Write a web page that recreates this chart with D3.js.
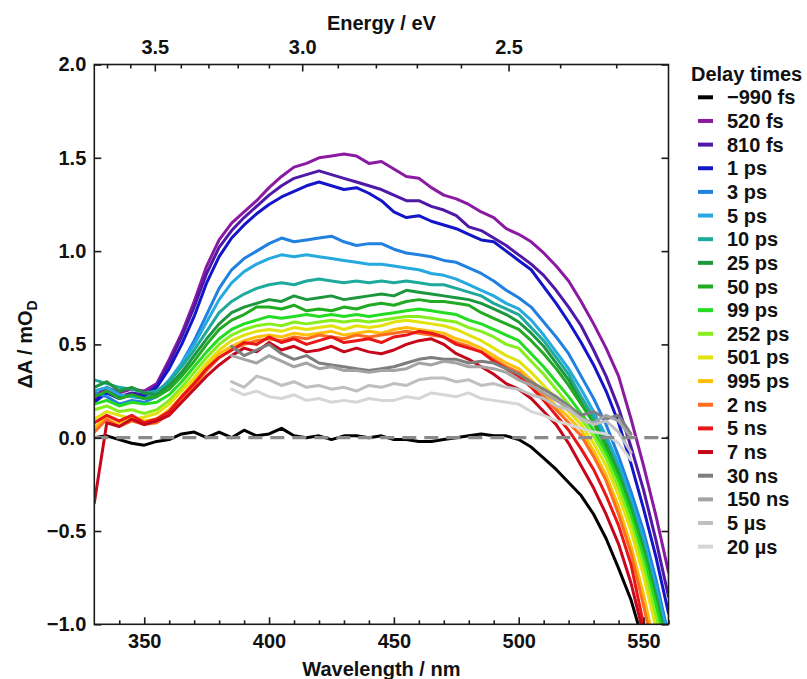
<!DOCTYPE html>
<html>
<head>
<meta charset="utf-8">
<script src="https://cdn.jsdelivr.net/npm/d3@7"></script>
<style>
  body { margin: 0; background: #fff; }
  svg text { font-family: "Liberation Sans", Arial, sans-serif; font-weight: bold; fill: #111; }
</style>
</head>
<body>
<svg id="chart" width="807" height="679"></svg>
<script>
// ---- data -------------------------------------------------------------
const wavelength = [330,335,340,345,350,355,360,365,370,375,380,385,390,395,400,405,410,415,420,425,430,435,440,445,450,455,460,465,470,475,480,485,490,495,500,505,510,515,520,525,530,535,540,545,550,555,560];
const wavelengthLate = [385,390,395,400,405,410,415,420,425,430,435,440,445,450,455,460,465,470,475,480,485,490,495,500,505,510,515,520,525,530,535,540,545];

const dA_m990fs = [0.00,0.01,-0.01,-0.03,-0.04,-0.02,-0.01,0.02,0.03,0.00,0.03,0.00,0.04,0.01,0.02,0.05,0.01,0.00,0.01,-0.01,0.01,0.01,0.00,0.01,-0.01,-0.01,-0.02,-0.02,-0.01,0.00,0.01,0.02,0.01,0.01,-0.01,-0.05,-0.11,-0.17,-0.24,-0.31,-0.41,-0.54,-0.70,-0.87,-1.10,-1.35,-1.60];
const dA_520fs = [0.22,0.27,0.24,0.26,0.25,0.29,0.42,0.56,0.73,0.92,1.06,1.15,1.21,1.27,1.34,1.40,1.45,1.47,1.50,1.51,1.52,1.51,1.47,1.48,1.44,1.40,1.39,1.34,1.30,1.28,1.25,1.21,1.18,1.12,1.09,1.05,0.99,0.92,0.84,0.73,0.61,0.48,0.33,0.10,-0.15,-0.42,-0.72];
const dA_810fs = [0.20,0.25,0.22,0.24,0.23,0.28,0.40,0.54,0.70,0.88,1.02,1.11,1.18,1.24,1.30,1.35,1.39,1.41,1.43,1.41,1.39,1.37,1.35,1.33,1.30,1.27,1.27,1.24,1.22,1.19,1.13,1.11,1.07,1.03,0.98,0.93,0.87,0.79,0.70,0.60,0.47,0.33,0.16,-0.05,-0.28,-0.55,-0.85];
const dA_1ps = [0.19,0.24,0.21,0.23,0.22,0.27,0.37,0.50,0.65,0.83,0.97,1.07,1.14,1.20,1.25,1.29,1.32,1.35,1.37,1.35,1.33,1.34,1.31,1.27,1.21,1.18,1.19,1.16,1.14,1.12,1.09,1.06,1.05,1.00,0.95,0.90,0.81,0.72,0.62,0.51,0.39,0.25,0.08,-0.14,-0.38,-0.64,-0.94];
const dA_3ps = [0.24,0.22,0.18,0.20,0.19,0.22,0.30,0.40,0.52,0.66,0.80,0.90,0.96,1.00,1.04,1.07,1.05,1.06,1.07,1.08,1.05,1.03,1.04,1.04,1.01,0.99,0.98,0.97,0.95,0.94,0.91,0.88,0.84,0.79,0.75,0.70,0.62,0.54,0.45,0.33,0.21,0.07,-0.10,-0.29,-0.50,-0.76,-1.06];
const dA_5ps = [0.25,0.27,0.23,0.22,0.21,0.24,0.31,0.40,0.50,0.62,0.74,0.83,0.89,0.93,0.96,0.98,0.97,0.98,0.97,0.96,0.95,0.94,0.93,0.93,0.92,0.91,0.90,0.88,0.87,0.85,0.82,0.79,0.76,0.72,0.69,0.63,0.55,0.46,0.37,0.26,0.14,0.01,-0.14,-0.33,-0.54,-0.80,-1.08];
const dA_10ps = [0.31,0.29,0.27,0.26,0.24,0.25,0.30,0.38,0.47,0.57,0.67,0.73,0.77,0.80,0.82,0.83,0.82,0.84,0.85,0.84,0.83,0.84,0.83,0.84,0.83,0.84,0.83,0.82,0.82,0.80,0.78,0.76,0.72,0.69,0.66,0.59,0.52,0.43,0.34,0.22,0.11,-0.02,-0.17,-0.36,-0.58,-0.84,-1.12];
const dA_25ps = [0.27,0.30,0.25,0.27,0.24,0.23,0.28,0.35,0.44,0.53,0.61,0.67,0.70,0.72,0.74,0.73,0.76,0.74,0.75,0.76,0.74,0.75,0.76,0.77,0.76,0.79,0.78,0.77,0.76,0.75,0.74,0.72,0.69,0.66,0.62,0.56,0.49,0.40,0.31,0.19,0.08,-0.04,-0.19,-0.38,-0.60,-0.86,-1.15];
const dA_50ps = [0.22,0.25,0.21,0.23,0.21,0.22,0.26,0.33,0.41,0.50,0.58,0.63,0.66,0.70,0.70,0.69,0.71,0.68,0.69,0.68,0.70,0.69,0.71,0.72,0.71,0.73,0.74,0.73,0.73,0.72,0.71,0.67,0.64,0.61,0.58,0.52,0.45,0.37,0.28,0.18,0.08,-0.05,-0.20,-0.39,-0.61,-0.87,-1.17];
const dA_99ps = [0.18,0.20,0.17,0.19,0.18,0.19,0.23,0.30,0.38,0.46,0.53,0.58,0.61,0.63,0.65,0.64,0.65,0.66,0.65,0.66,0.65,0.66,0.65,0.66,0.67,0.68,0.69,0.68,0.67,0.66,0.63,0.61,0.58,0.55,0.52,0.45,0.38,0.30,0.22,0.13,0.04,-0.08,-0.23,-0.42,-0.64,-0.90,-1.20];
const dA_252ps = [0.15,0.17,0.14,0.15,0.13,0.15,0.20,0.27,0.35,0.43,0.50,0.55,0.58,0.60,0.61,0.60,0.62,0.61,0.62,0.63,0.62,0.63,0.62,0.63,0.64,0.65,0.65,0.64,0.63,0.62,0.59,0.57,0.54,0.50,0.48,0.41,0.34,0.26,0.18,0.10,0.01,-0.11,-0.27,-0.46,-0.69,-0.96,-1.25];
const dA_501ps = [0.10,0.14,0.12,0.10,0.11,0.13,0.18,0.25,0.32,0.40,0.47,0.52,0.55,0.57,0.58,0.57,0.59,0.58,0.59,0.60,0.58,0.60,0.59,0.60,0.62,0.63,0.62,0.61,0.60,0.58,0.55,0.52,0.48,0.44,0.41,0.35,0.28,0.21,0.14,0.07,-0.03,-0.15,-0.31,-0.50,-0.74,-1.02,-1.30];
const dA_995ps = [0.05,0.12,0.08,0.11,0.09,0.10,0.15,0.22,0.30,0.38,0.45,0.49,0.52,0.54,0.55,0.54,0.56,0.55,0.56,0.57,0.55,0.56,0.57,0.56,0.58,0.59,0.58,0.57,0.56,0.53,0.51,0.48,0.44,0.40,0.37,0.31,0.24,0.17,0.11,0.04,-0.07,-0.20,-0.37,-0.58,-0.84,-1.15,-1.45];
const dA_2ns = [0.03,0.10,0.06,0.09,0.07,0.08,0.13,0.20,0.28,0.36,0.43,0.47,0.50,0.52,0.53,0.52,0.54,0.53,0.55,0.54,0.53,0.55,0.54,0.55,0.56,0.57,0.56,0.55,0.54,0.51,0.49,0.46,0.42,0.38,0.35,0.29,0.22,0.15,0.08,0.01,-0.10,-0.23,-0.41,-0.62,-0.90,-1.20,-1.50];
const dA_5ns = [0.08,0.12,0.09,0.12,0.08,0.10,0.14,0.22,0.29,0.37,0.43,0.47,0.51,0.50,0.54,0.51,0.53,0.50,0.52,0.54,0.51,0.52,0.53,0.51,0.54,0.55,0.57,0.56,0.54,0.50,0.48,0.46,0.41,0.37,0.33,0.27,0.20,0.12,0.04,-0.06,-0.17,-0.31,-0.47,-0.68,-1.00,-1.30,-1.60];
const dA_7ns = [-0.35,0.08,0.06,0.10,0.07,0.09,0.12,0.19,0.26,0.33,0.39,0.44,0.48,0.46,0.51,0.47,0.49,0.46,0.47,0.49,0.46,0.48,0.46,0.45,0.47,0.50,0.52,0.53,0.50,0.45,0.42,0.38,0.34,0.29,0.26,0.21,0.14,0.07,-0.03,-0.15,-0.27,-0.41,-0.57,-0.78,-1.05,-1.35,-1.65];
const dA_30ns = [0.49,0.44,0.47,0.50,0.45,0.42,0.44,0.40,0.39,0.38,0.37,0.36,0.37,0.38,0.40,0.42,0.43,0.42,0.42,0.40,0.41,0.40,0.37,0.34,0.30,0.26,0.22,0.17,0.12,0.14,0.10,0.12,0.02];
const dA_150ns = [0.44,0.42,0.40,0.44,0.41,0.38,0.40,0.37,0.38,0.36,0.36,0.35,0.36,0.36,0.37,0.40,0.39,0.41,0.40,0.38,0.38,0.37,0.35,0.31,0.28,0.24,0.20,0.16,0.10,0.08,0.12,0.09,0.00];
const dA_5us = [0.30,0.27,0.33,0.31,0.28,0.30,0.27,0.28,0.26,0.27,0.25,0.28,0.27,0.29,0.28,0.31,0.32,0.32,0.30,0.31,0.28,0.29,0.27,0.26,0.23,0.21,0.17,0.15,0.10,0.07,0.09,0.03,-0.08];
const dA_20us = [0.26,0.23,0.25,0.22,0.21,0.23,0.20,0.21,0.19,0.20,0.19,0.21,0.20,0.20,0.22,0.21,0.24,0.23,0.22,0.24,0.21,0.20,0.19,0.18,0.14,0.12,0.09,0.07,0.05,0.03,0.02,-0.03,-0.12];

const delayLabels = ["\u2212990 fs","520 fs","810 fs","1 ps","3 ps","5 ps","10 ps","25 ps","50 ps","99 ps","252 ps","501 ps","995 ps","2 ns","5 ns","7 ns","30 ns","150 ns","5 \u00b5s","20 \u00b5s"];

const wavelengthTicks = [350,400,450,500,550];
const wavelengthMinorTicks = [340,360,370,380,390,410,420,430,440,460,470,480,490,510,520,530,540,560];
const energyTicks = [3.5,3.0,2.5];
const energyMinorTicks = [3.7,3.6,3.4,3.3,3.2,3.1,2.9,2.8,2.7,2.6,2.4,2.3];
const absorbanceTicks = [-1.0,-0.5,0.0,0.5,1.0,1.5,2.0];

// ---- styles -----------------------------------------------------------
const lineColors = ["#000000","#8a1aa2","#4f18a6","#1414c8","#2180e0","#25a9de","#1ea99c","#1d973e","#22ab22","#24dc24","#86ee1e","#e2e20e","#ffbe0c","#ff6d1e","#e81616","#c6061a","#7e7e7e","#a4a4a4","#bfbfbf","#d6d6d6"];

const series = [
  [wavelength, dA_m990fs], [wavelength, dA_520fs], [wavelength, dA_810fs], [wavelength, dA_1ps],
  [wavelength, dA_3ps], [wavelength, dA_5ps], [wavelength, dA_10ps], [wavelength, dA_25ps],
  [wavelength, dA_50ps], [wavelength, dA_99ps], [wavelength, dA_252ps], [wavelength, dA_501ps],
  [wavelength, dA_995ps], [wavelength, dA_2ns], [wavelength, dA_5ns], [wavelength, dA_7ns],
  [wavelengthLate, dA_30ns], [wavelengthLate, dA_150ns], [wavelengthLate, dA_5us], [wavelengthLate, dA_20us]
].map(([xs, ys], i) => ({ label: delayLabels[i], color: lineColors[i], points: d3.zip(xs, ys) }));

// ---- layout -----------------------------------------------------------
const HC = 1239.84; // eV·nm
const M = { left: 94.3, right: 668.5, top: 64.5, bottom: 624.3 };
const FONT = "'Liberation Sans', Arial, sans-serif";

const svg = d3.select("#chart");
const x = d3.scaleLinear().domain([330, 560]).range([M.left, M.right]);
const y = d3.scaleLinear().domain([-1, 2]).range([M.bottom, M.top]);

svg.append("defs").append("clipPath").attr("id", "plot-area")
  .append("rect")
  .attr("x", M.left).attr("y", M.top)
  .attr("width", M.right - M.left).attr("height", M.bottom - M.top);

// spectra
const line = d3.line().x(d => x(d[0])).y(d => y(d[1]));
const plot = svg.append("g").attr("clip-path", "url(#plot-area)");
plot.selectAll("path.spectrum")
  .data(series)
  .join("path")
  .attr("class", "spectrum")
  .attr("d", d => line(d.points))
  .attr("fill", "none")
  .attr("stroke", d => d.color)
  .attr("stroke-width", 3)
  .attr("stroke-linejoin", "round")
  .attr("stroke-linecap", "round");

// zero reference
plot.append("line")
  .attr("x1", x(330)).attr("x2", x(560))
  .attr("y1", y(0)).attr("y2", y(0))
  .attr("stroke", "#8a8a8a")
  .attr("stroke-width", 3.2)
  .attr("stroke-dasharray", "14 8");

// axes
function styleAxis(g) {
  g.attr("font-family", FONT).attr("font-size", 20).attr("font-weight", "bold").attr("color", "#1a1a1a");
  g.select(".domain").remove();
  g.selectAll(".tick line").attr("stroke-width", 1.6);
}

svg.append("g").attr("transform", `translate(0,${M.bottom})`)
  .call(d3.axisBottom(x).tickValues(wavelengthTicks).tickSize(-7).tickPadding(9.5).tickFormat(d3.format("d")))
  .call(styleAxis);
svg.append("g").attr("transform", `translate(0,${M.bottom})`)
  .call(d3.axisBottom(x).tickValues(wavelengthMinorTicks).tickSize(-4).tickFormat(""))
  .call(styleAxis);

svg.append("g").attr("transform", `translate(0,${M.top})`)
  .call(d3.axisTop(x).tickValues(energyTicks.map(e => HC / e)).tickSize(-7).tickPadding(10.5)
    .tickFormat((d, i) => d3.format(".1f")(energyTicks[i])))
  .call(styleAxis);
svg.append("g").attr("transform", `translate(0,${M.top})`)
  .call(d3.axisTop(x).tickValues(energyMinorTicks.map(e => HC / e).filter(w => w >= 330 && w <= 560))
    .tickSize(-4).tickFormat(""))
  .call(styleAxis);

svg.append("g").attr("transform", `translate(${M.left},0)`)
  .call(d3.axisLeft(y).tickValues(absorbanceTicks).tickSize(-7).tickPadding(8).tickFormat(d3.format(".1f")))
  .call(styleAxis);
svg.append("g").attr("transform", `translate(${M.right},0)`)
  .call(d3.axisRight(y).tickValues(absorbanceTicks).tickSize(-7).tickFormat(""))
  .call(styleAxis);

// frame
svg.append("rect")
  .attr("x", M.left).attr("y", M.top)
  .attr("width", M.right - M.left).attr("height", M.bottom - M.top)
  .attr("fill", "none").attr("stroke", "#1a1a1a").attr("stroke-width", 1.6);

// axis titles
svg.append("text")
  .attr("x", (M.left + M.right) / 2).attr("y", 676)
  .attr("text-anchor", "middle").attr("font-size", 20)
  .text("Wavelength / nm");

svg.append("text")
  .attr("x", (M.left + M.right) / 2).attr("y", 30)
  .attr("text-anchor", "middle").attr("font-size", 20)
  .text("Energy / eV");

const yTitle = svg.append("text")
  .attr("transform", `translate(32,${(M.top + M.bottom) / 2}) rotate(-90)`)
  .attr("text-anchor", "middle").attr("font-size", 20);
yTitle.append("tspan").text("\u0394A / mO");
yTitle.append("tspan").attr("font-size", 14).attr("dy", 5).text("D");

// legend
const legend = svg.append("g");
legend.append("text").attr("x", 691).attr("y", 81).attr("font-size", 20).text("Delay times");
const rows = legend.selectAll("g.row")
  .data(series)
  .join("g")
  .attr("class", "row")
  .attr("transform", (d, i) => `translate(0,${97.3 + i * 23.65})`);
rows.append("line")
  .attr("x1", 698).attr("x2", 713).attr("y1", 0).attr("y2", 0)
  .attr("stroke", d => d.color).attr("stroke-width", 4);
rows.append("text")
  .attr("x", 727).attr("y", 7)
  .attr("font-size", 20)
  .text(d => d.label);
</script>
</body>
</html>
